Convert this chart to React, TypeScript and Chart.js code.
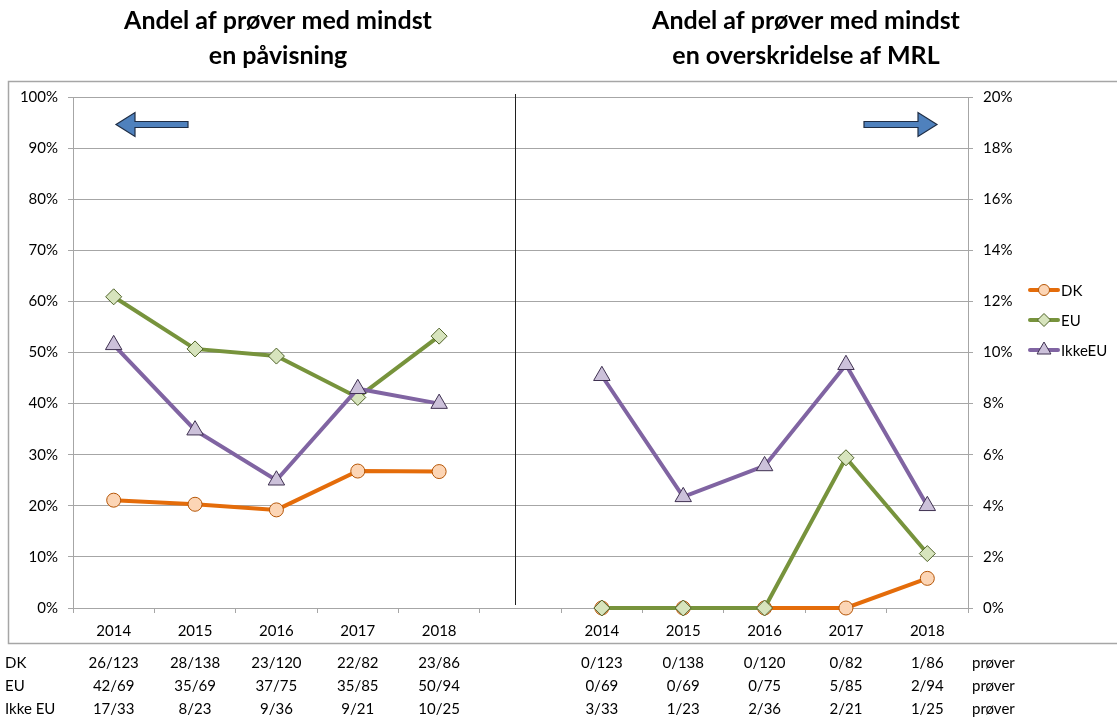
import React, { useEffect, useRef } from 'react';
import { Chart, registerables } from 'chart.js';

Chart.register(...registerables);

// ---------- data ----------
const categories = ['2014', '2015', '2016', '2017', '2018', '', '2014', '2015', '2016', '2017', '2018'];

// left panel: share of samples with at least one detection (%)
const dkDetect = [21.1, 20.3, 19.2, 26.8, 26.7];
const euDetect = [60.9, 50.7, 49.3, 41.2, 53.2];
const ikkeEuDetect = [51.5, 34.8, 25.0, 42.9, 40.0];

// right panel: share of samples with at least one MRL exceedance (%)
const dkMrl = [0, 0, 0, 0, 1.16];
const euMrl = [0, 0, 0, 5.88, 2.13];
const ikkeEuMrl = [9.09, 4.35, 5.56, 9.52, 4.0];

const seriesNames = ['DK', 'EU', 'IkkeEU'];
const rowLabels = ['DK', 'EU', 'Ikke EU'];
const dkCounts = ['26/123', '28/138', '23/120', '22/82', '23/86', '0/123', '0/138', '0/120', '0/82', '1/86'];
const euCounts = ['42/69', '35/69', '37/75', '35/85', '50/94', '0/69', '0/69', '0/75', '5/85', '2/94'];
const ikkeEuCounts = ['17/33', '8/23', '9/36', '9/21', '10/25', '3/33', '1/23', '2/36', '2/21', '1/25'];
const unitLabel = 'prøver';

const titleLeft = ['Andel af prøver med mindst', 'en påvisning'];
const titleRight = ['Andel af prøver med mindst', 'en overskridelse af MRL'];

const leftMax = 100;
const leftStep = 10;
const rightMax = 20;
const rightStep = 2;

// ---------- styles ----------
const FONT = 'Lato, "Open Sans", sans-serif';
const GRID = '#A6A6A6';
const styles = [
  { line: '#E46C0A', fill: '#FCD5B5', border: '#B65708', shape: 'circle', radius: 7 },
  { line: '#77933C', fill: '#D7E4BD', border: '#4F6228', shape: 'rectRot', radius: 8 },
  { line: '#8064A2', fill: '#CCC1DA', border: '#3F3151', shape: 'triangle', radius: 9.5 },
];

const leftData = (vals: number[]) => [...vals, null, null, null, null, null, null];
const rightData = (vals: number[]) => [null, null, null, null, null, null, ...vals];

function makeDataset(label: string, data: (number | null)[], s: any, axis: string, order: number) {
  return {
    label,
    data,
    yAxisID: axis,
    borderColor: s.line,
    backgroundColor: s.fill,
    borderWidth: 4,
    pointStyle: s.shape,
    pointRadius: s.radius,
    pointBackgroundColor: s.fill,
    pointBorderColor: s.border,
    pointBorderWidth: 1,
    tension: 0,
    spanGaps: false,
    clip: false,
    order,
  };
}

function drawArrow(ctx: CanvasRenderingContext2D, tailX: number, tipX: number, y: number) {
  const dir = tipX > tailX ? 1 : -1;
  const headLen = 19;
  const headHalf = 12;
  const bodyHalf = 3;
  const baseX = tipX - dir * headLen;
  ctx.save();
  ctx.beginPath();
  ctx.moveTo(tailX, y - bodyHalf);
  ctx.lineTo(baseX, y - bodyHalf);
  ctx.lineTo(baseX, y - headHalf);
  ctx.lineTo(tipX, y);
  ctx.lineTo(baseX, y + headHalf);
  ctx.lineTo(baseX, y + bodyHalf);
  ctx.lineTo(tailX, y + bodyHalf);
  ctx.closePath();
  ctx.fillStyle = '#4F81BD';
  ctx.fill();
  ctx.strokeStyle = '#1F2D44';
  ctx.lineWidth = 1.2;
  ctx.stroke();
  ctx.restore();
}

function drawPointShape(ctx: CanvasRenderingContext2D, shape: string, r: number, cx: number, cy: number) {
  ctx.beginPath();
  if (shape === 'circle') {
    ctx.arc(cx, cy, r, 0, Math.PI * 2);
  } else if (shape === 'rectRot') {
    ctx.moveTo(cx - r, cy);
    ctx.lineTo(cx, cy - r);
    ctx.lineTo(cx + r, cy);
    ctx.lineTo(cx, cy + r);
  } else {
    const w = r * 0.866;
    ctx.moveTo(cx, cy - r);
    ctx.lineTo(cx + w, cy + r * 0.5);
    ctx.lineTo(cx - w, cy + r * 0.5);
  }
  ctx.closePath();
  ctx.fill();
  ctx.stroke();
}

const decorPlugin = {
  id: 'decor',
  beforeDraw(chart: any) {
    const ctx = chart.ctx;
    ctx.save();
    ctx.fillStyle = '#fff';
    ctx.fillRect(0, 0, chart.width, chart.height);
    ctx.strokeStyle = GRID;
    ctx.lineWidth = 1.5;
    ctx.strokeRect(8.5, 81.5, chart.width + 10, 562);
    ctx.restore();
  },
  afterDraw(chart: any) {
    const ctx = chart.ctx;
    const x = chart.scales.x;
    const area = chart.chartArea;
    ctx.save();

    // titles
    ctx.fillStyle = '#000';
    ctx.textAlign = 'center';
    ctx.textBaseline = 'middle';
    ctx.font = `bold 25px ${FONT}`;
    titleLeft.forEach((t, i) => ctx.fillText(t, 278, 21 + i * 35));
    titleRight.forEach((t, i) => ctx.fillText(t, 806, 21 + i * 35));

    // divider between the panels
    const divX = Math.round(x.getPixelForValue(5)) - 5.5;
    ctx.strokeStyle = '#202020';
    ctx.lineWidth = 1;
    ctx.beginPath();
    ctx.moveTo(divX, area.top - 3);
    ctx.lineTo(divX, area.bottom - 3);
    ctx.stroke();

    // arrows
    drawArrow(ctx, 188, 116, 124.5);
    drawArrow(ctx, 864, 937, 124.5);

    // data table
    const rows = [dkCounts, euCounts, ikkeEuCounts];
    ctx.font = `15px ${FONT}`;
    ctx.textBaseline = 'middle';
    rows.forEach((row, r) => {
      const y = 663 + r * 23;
      ctx.textAlign = 'left';
      ctx.fillText(rowLabels[r], 5, y);
      row.forEach((txt, i) => {
        const idx = i < 5 ? i : i + 1;
        ctx.textAlign = 'center';
        ctx.fillText(txt, x.getPixelForValue(idx), y);
      });
      ctx.textAlign = 'left';
      ctx.fillText(unitLabel, 972, y);
    });

    // legend
    seriesNames.forEach((name, i) => {
      const s = styles[i];
      const y = 290 + i * 30;
      ctx.strokeStyle = s.line;
      ctx.lineWidth = 4;
      ctx.lineCap = 'round';
      ctx.beginPath();
      ctx.moveTo(1030, y);
      ctx.lineTo(1058, y);
      ctx.stroke();
      ctx.lineCap = 'butt';
      ctx.fillStyle = s.fill;
      ctx.strokeStyle = s.border;
      ctx.lineWidth = 1;
      drawPointShape(ctx, s.shape, s.radius - 1.5, 1044, y);
      ctx.fillStyle = '#000';
      ctx.textAlign = 'left';
      ctx.font = `15px ${FONT}`;
      ctx.fillText(name, 1061, y + 1);
    });
    ctx.restore();
  },
};

export default function App() {
  const ref = useRef<HTMLCanvasElement>(null);

  useEffect(() => {
    document.body.style.margin = '0';
    const canvas = ref.current!;
    const tickFont = { family: FONT, size: 15 };
    const chart = new Chart(canvas, {
      type: 'line',
      data: {
        labels: categories,
        datasets: [
          makeDataset(seriesNames[0], leftData(dkDetect), styles[0], 'y', 3),
          makeDataset(seriesNames[1], leftData(euDetect), styles[1], 'y', 2),
          makeDataset(seriesNames[2], leftData(ikkeEuDetect), styles[2], 'y', 1),
          makeDataset(seriesNames[0], rightData(dkMrl), styles[0], 'y2', 3),
          makeDataset(seriesNames[1], rightData(euMrl), styles[1], 'y2', 2),
          makeDataset(seriesNames[2], rightData(ikkeEuMrl), styles[2], 'y2', 1),
        ] as any,
      },
      options: {
        responsive: false,
        animation: false,
        events: [],
        layout: { padding: { top: 97, bottom: 69, left: 0, right: 0 } },
        plugins: {
          legend: { display: false },
          tooltip: { enabled: false },
          title: { display: false },
        },
        scales: {
          x: {
            type: 'category',
            offset: true,
            grid: { offset: true, drawOnChartArea: false, tickLength: 5, color: GRID },
            border: { color: GRID },
            ticks: { padding: 9, color: '#000', font: tickFont, autoSkip: false, maxRotation: 0 },
            afterFit: (s: any) => { s.height = 40; },
          },
          y: {
            position: 'left',
            min: 0,
            max: leftMax,
            grid: { color: GRID, tickLength: 5 },
            border: { color: GRID },
            ticks: { stepSize: leftStep, padding: 10, color: '#000', font: tickFont, callback: (v: any) => `${v}%` },
            afterFit: (s: any) => { s.width = 73; },
          },
          y2: {
            position: 'right',
            min: 0,
            max: rightMax,
            grid: { drawOnChartArea: false, tickLength: 5, color: GRID },
            border: { color: GRID },
            ticks: { stepSize: rightStep, padding: 10, color: '#000', font: tickFont, callback: (v: any) => `${v}%` },
            afterFit: (s: any) => { s.width = 149; },
          },
        },
      } as any,
      plugins: [decorPlugin],
    });
    return () => chart.destroy();
  }, []);

  return (
    <div style={{ width: 1117, height: 717 }}>
      <canvas ref={ref} width={1117} height={717} style={{ display: 'block' }} />
    </div>
  );
}
